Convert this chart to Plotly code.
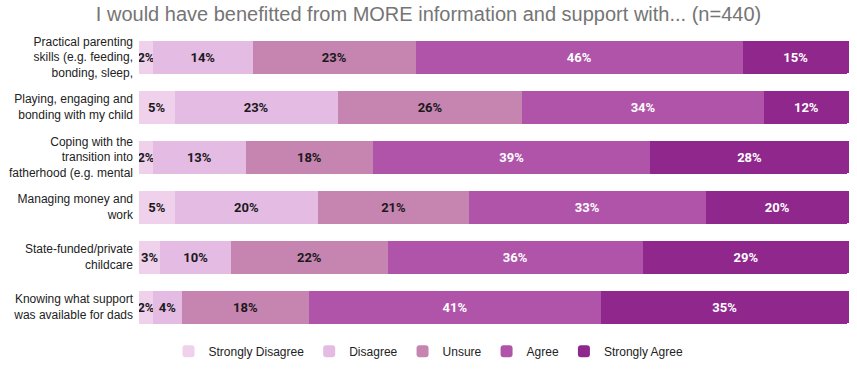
import plotly.graph_objects as go

categories = [
    "Practical parenting<br>skills (e.g. feeding,<br>bonding, sleep,",
    "Playing, engaging and<br>bonding with my child",
    "Coping with the<br>transition into<br>fatherhood (e.g. mental",
    "Managing money and<br>work",
    "State-funded/private<br>childcare",
    "Knowing what support<br>was available for dads",
]
series_names = ["Strongly Disagree", "Disagree", "Unsure", "Agree", "Strongly Agree"]
strongly_disagree = [2, 5, 2, 5, 3, 2]
disagree = [14, 23, 13, 20, 10, 4]
unsure = [23, 26, 18, 21, 22, 18]
agree = [46, 34, 39, 33, 36, 41]
strongly_agree = [15, 12, 28, 20, 29, 35]
series_values = [strongly_disagree, disagree, unsure, agree, strongly_agree]
colors = ["#efd1ec", "#e4bbe3", "#c684b1", "#b054aa", "#90278c"]
text_colors = ["#1a1a1a", "#1a1a1a", "#1a1a1a", "#ffffff", "#ffffff"]

fig = go.Figure()
for name, vals, col, tcol in zip(series_names, series_values, colors, text_colors):
    fig.add_trace(go.Bar(
        y=categories, x=vals, name=name, orientation="h",
        marker=dict(color=col, line=dict(width=0)),
        text=[f"{v}%" for v in vals],
        textposition="inside", insidetextanchor="middle", textangle=0,
        textfont=dict(family="Roboto", size=13, color=tcol, weight="bold"),
        constraintext="none",
        hoverinfo="x+y+name",
    ))

fig.update_layout(
    barmode="stack", barnorm="percent",
    bargap=0.34,
    barcornerradius=2,
    width=857, height=370,
    margin=dict(l=139, r=8, t=32, b=38, autoexpand=False),
    plot_bgcolor="white", paper_bgcolor="white",
    title=dict(text="I would have benefitted from MORE information and support with... (n=440)",
               x=0.5, xanchor="center", y=0.963, yanchor="middle",
               font=dict(family="Liberation Sans, Arial", size=20, color="#757575")),
    xaxis=dict(visible=False, range=[0, 100], fixedrange=True),
    yaxis=dict(autorange="reversed", showgrid=False, ticks="", automargin=False,
               tickfont=dict(family="Liberation Sans, Arial", size=12, color="#222222"),
               ticklabelstandoff=5),
    legend=dict(orientation="h", xref="container", x=0.5, xanchor="center",
                yref="container", y=0.051, yanchor="middle",
                font=dict(family="Liberation Sans, Arial", size=12, color="#222222"),
                itemwidth=30, traceorder="normal"),
    uniformtext=dict(minsize=13, mode="show"),
    showlegend=True,
)
fig.write_html("out.html", config={"displayModeBar": False},
               post_script="document.body.style.margin='0';document.body.style.overflow='hidden';")
